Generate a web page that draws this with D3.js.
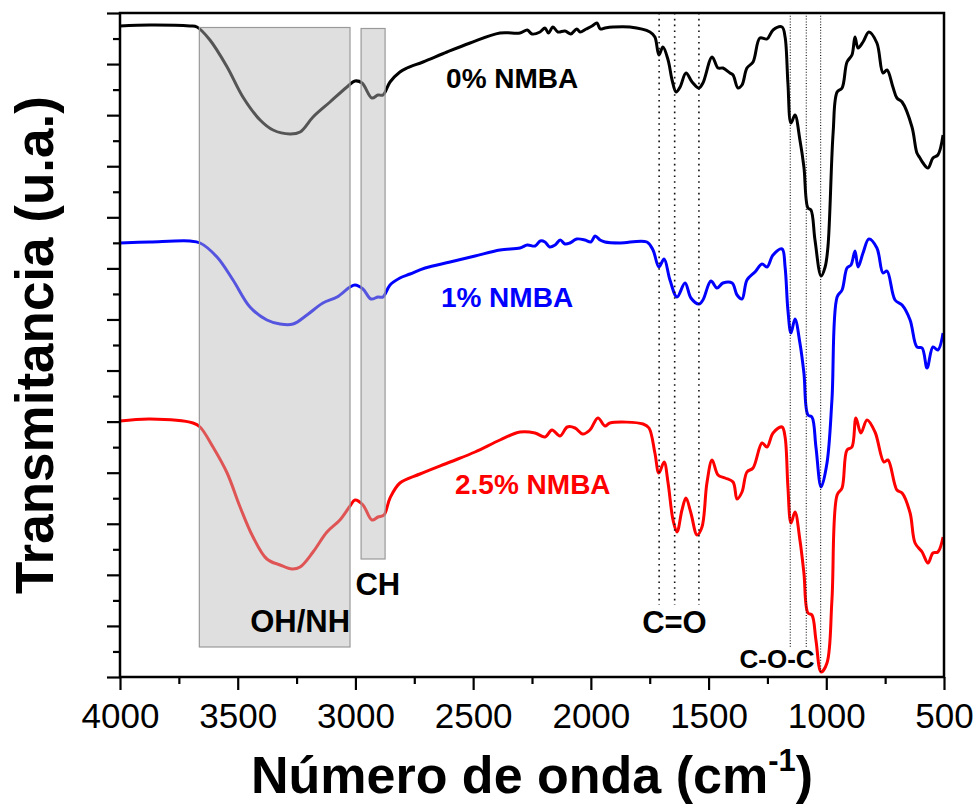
<!DOCTYPE html>
<html><head><meta charset="utf-8">
<script src="https://cdn.jsdelivr.net/npm/d3@7"></script>
<style>body{margin:0;background:#fff}svg{display:block}</style>
</head><body>
<script>
// ---------- data (wavenumber cm-1, transmittance a.u.) ----------
const wn0 = [4000,3873,3703,3673,3618,3545,3478,3405,3350,3278,3235,3180,3108,3036,3002,2972,2930,2904,2883,2853,2811,2781,2713,2611,2513,2386,2301,2270,2250,2216,2195,2180,2161,2140,2110,2085,2060,2046,2020,1995,1974,1960,1940,1906,1834,1749,1728,1711,1694,1672,1655,1638,1621,1596,1570,1541,1524,1485,1460,1439,1409,1396,1375,1358,1337,1311,1282,1252,1226,1188,1175,1163,1150,1133,1112,1095,1078,1065,1048,1022,1005,993,971,954,933,912,891,878,865,844,819,785,759,742,717,700,678,636,615,602,589,568,547,526,504];
const t0 = [130.2,130.4,130.2,130.0,127.4,122.0,116.0,111.4,109.4,108.6,109.0,112.0,115.0,118.0,119.2,118.8,115.8,116.4,116.4,119.0,121.0,121.8,123.0,125.0,126.8,128.8,128.8,129.4,128.6,129.0,129.8,128.8,130.0,129.0,129.2,128.6,129.6,129.0,129.6,130.2,130.8,129.6,129.8,130.0,130.0,129.0,128.0,124.4,126.0,123.4,119.4,117.0,118.0,120.8,119.0,117.8,118.8,124.0,121.8,121.8,120.8,120.4,117.8,118.4,121.8,123.0,127.8,127.6,129.4,130.0,128.0,118.8,110.8,112.4,107.4,102.0,93.8,93.4,87.4,80.2,82.0,86.0,108.8,117.0,117.8,123.0,124.4,128.0,125.8,127.0,129.0,126.8,120.8,121.4,118.0,115.8,115.0,110.0,104.8,103.8,102.8,101.8,103.8,104.4,108.4];

const wn1 = [4000,3873,3703,3660,3588,3520,3448,3376,3320,3265,3206,3138,3078,3023,3002,2968,2934,2904,2883,2853,2811,2768,2704,2598,2492,2386,2301,2270,2237,2215,2195,2175,2152,2130,2110,2089,2060,2025,2000,1982,1961,1940,1876,1762,1736,1711,1689,1664,1634,1600,1575,1541,1524,1490,1464,1439,1400,1379,1358,1337,1303,1273,1252,1226,1188,1175,1163,1150,1133,1112,1095,1078,1061,1044,1022,997,976,954,933,912,895,878,865,844,819,785,759,742,708,678,644,615,593,572,547,526,504];
const t1 = [86.8,87.0,87.2,86.8,84.0,79.4,74.0,71.4,70.6,70.6,72.4,74.8,76.0,78.0,78.4,77.6,75.6,76.0,76.0,78.4,79.8,80.6,81.8,83.0,84.2,85.4,85.8,86.4,86.2,87.2,87.0,86.0,86.4,87.4,86.6,86.8,87.6,87.4,87.0,88.2,87.4,87.0,86.8,87.0,85.4,82.0,83.6,79.4,76.0,78.8,75.8,74.6,75.4,79.2,77.8,78.8,78.8,76.4,75.6,79.4,81.0,82.6,82.0,84.4,85.6,82.0,73.4,68.8,71.6,66.8,60.8,52.4,52.0,46.0,38.0,42.8,55.4,76.0,77.4,81.8,82.4,85.2,82.0,84.8,87.6,85.8,80.8,81.2,75.4,74.4,71.4,66.0,65.8,61.8,66.0,65.4,68.8];

const wn25 = [4000,3873,3690,3660,3605,3545,3490,3435,3376,3320,3269,3235,3180,3121,3066,3023,3002,2968,2930,2904,2879,2853,2811,2726,2598,2492,2386,2301,2237,2195,2165,2131,2100,2067,2035,2004,1970,1940,1919,1778,1753,1728,1711,1689,1672,1651,1634,1613,1596,1575,1549,1528,1507,1485,1460,1430,1396,1379,1358,1337,1311,1273,1252,1226,1188,1175,1163,1150,1133,1112,1095,1078,1061,1044,1022,997,976,954,933,912,891,874,853,827,793,755,738,700,678,644,623,593,568,547,526,504];
const t25 = [51.2,51.6,50.8,50.0,46.0,40.8,34.0,28.0,23.6,22.4,21.6,22.0,25.0,29.0,31.4,34.2,35.4,34.4,31.4,32.0,32.4,35.8,38.8,40.6,43.0,45.0,47.4,49.0,48.8,48.0,49.4,48.2,50.0,49.8,48.6,49.4,51.8,50.2,50.8,50.6,49.8,44.8,40.8,43.0,38.8,31.4,29.0,33.4,35.8,32.8,28.4,30.0,38.8,43.4,40.4,39.8,39.0,35.6,37.0,41.0,41.8,46.8,46.0,48.8,50.0,48.0,38.0,30.8,33.0,27.4,20.8,12.8,12.4,7.4,1.0,2.8,15.4,36.4,37.8,45.4,46.0,51.8,48.8,51.4,49.0,43.0,43.4,37.4,36.8,32.8,26.8,25.0,22.8,24.8,25.0,28.0];

const seriesNames = ["0% NMBA","1% NMBA","2.5% NMBA"];
const seriesColors = ["#000000","#0000ff","#ff0000"];

// shaded band regions [from, to] in cm-1, [bottom, top] in a.u., and their label
const bandRanges = [[3663,3023],[2976,2874]];
const bandHeights = [[6.0,129.9],[23.6,129.7]];
const bandLabels = ["OH/NH","CH"];
// marker lines (cm-1)
const coLines = [1710,1644,1541];
const cocLines = [1153,1085,1024];

const xTicksMajor = [4000,3500,3000,2500,2000,1500,1000,500];
const xTicksMinor = [3750,3250,2750,2250,1750,1250,750];

// ---------- layout ----------
const W = 976, H = 805;
const m = {l:120, r:32, t:13, b:128};
const yMax = 132.8;
const svg = d3.select("body").append("svg").attr("width",W).attr("height",H);
const x = d3.scaleLinear().domain([4000,500]).range([m.l, W-m.r]);
const y = d3.scaleLinear().domain([0,yMax]).range([H-m.b, m.t]);
const FONT = "'Liberation Sans', Arial, Helvetica, sans-serif";

svg.append("defs").append("clipPath").attr("id","clip")
  .append("rect").attr("x",m.l).attr("y",m.t).attr("width",W-m.r-m.l).attr("height",H-m.b-m.t);

const line = d3.line().x(d=>x(d[0])).y(d=>y(d[1])).curve(d3.curveCatmullRom.alpha(0.5));
const data = [d3.zip(wn0,t0), d3.zip(wn1,t1), d3.zip(wn25,t25)];
const g = svg.append("g").attr("clip-path","url(#clip)");
data.forEach((d,i)=>{
  g.append("path").datum(d).attr("d",line).attr("fill","none")
   .attr("stroke",seriesColors[i]).attr("stroke-width",3).attr("stroke-linejoin","round");
});

// shaded bands (semi-transparent overlay)
bandRanges.forEach((r,i)=>{
  const [b,t] = bandHeights[i];
  g.append("rect").attr("x",x(r[0])).attr("width",x(r[1])-x(r[0]))
   .attr("y",y(t)).attr("height",y(b)-y(t))
   .attr("fill","#b9b9b9").attr("fill-opacity",0.46)
   .attr("stroke","#9a9a9a").attr("stroke-width",1.2);
});

// dotted marker lines
coLines.forEach(v=>{
  g.append("line").attr("x1",x(v)).attr("x2",x(v)).attr("y1",y(yMax)).attr("y2",y(14.4))
   .attr("stroke","#111").attr("stroke-width",1.6).attr("stroke-dasharray","1.6,4.2");
});
cocLines.forEach((v,i)=>{
  g.append("line").attr("x1",x(v)).attr("x2",x(v)).attr("y1",y(yMax)).attr("y2",y(i===2?1.0:5.8))
   .attr("stroke","#111").attr("stroke-width",1.1).attr("stroke-dasharray","1,1.8");
});

// ---------- axes ----------
const ax = svg.append("g");
ax.append("rect").attr("x",m.l).attr("y",m.t).attr("width",W-m.r-m.l).attr("height",H-m.b-m.t)
  .attr("fill","none").attr("stroke","#000").attr("stroke-width",2.5);

const xAxis = d3.axisBottom(x).tickValues(xTicksMajor).tickSize(13).tickSizeOuter(0).tickFormat(d3.format("d"));
const gx = ax.append("g").attr("transform",`translate(0,${H-m.b})`).call(xAxis);
gx.select(".domain").remove();
gx.selectAll(".tick line").attr("stroke","#000").attr("stroke-width",2.2);
gx.selectAll(".tick text").attr("font-family",FONT).attr("font-size",35).attr("fill","#000").attr("dy",null).attr("y",51);
const gxm = ax.append("g").attr("transform",`translate(0,${H-m.b})`)
  .call(d3.axisBottom(x).tickValues(xTicksMinor).tickSize(7).tickFormat(""));
gxm.select(".domain").remove();
gxm.selectAll(".tick line").attr("stroke","#000").attr("stroke-width",2.2);

const yMajor = d3.range(0,14).map(i=>i*yMax/13);
const yMinor = d3.range(0,13).map(i=>(i+0.5)*yMax/13);
const gy = ax.append("g").attr("transform",`translate(${m.l},0)`)
  .call(d3.axisLeft(y).tickValues(yMajor).tickSize(13).tickFormat(""));
gy.select(".domain").remove();
gy.selectAll(".tick line").attr("stroke","#000").attr("stroke-width",2.2);
const gym = ax.append("g").attr("transform",`translate(${m.l},0)`)
  .call(d3.axisLeft(y).tickValues(yMinor).tickSize(7).tickFormat(""));
gym.select(".domain").remove();
gym.selectAll(".tick line").attr("stroke","#000").attr("stroke-width",2.2);

// axis titles
const xt = svg.append("text").attr("x",(m.l+W-m.r)/2).attr("y",793).attr("text-anchor","middle")
  .attr("font-family",FONT).attr("font-weight","bold").attr("font-size",52).attr("fill","#000");
xt.append("tspan").text("Número de onda (cm");
xt.append("tspan").attr("font-size",31).attr("dy",-22).text("-1");
xt.append("tspan").attr("dy",22).text(")");

svg.append("text").attr("transform",`translate(53,${(m.t+H-m.b)/2}) rotate(-90)`)
  .attr("text-anchor","middle").attr("font-family",FONT).attr("font-weight","bold")
  .attr("font-size",53).attr("fill","#000").text("Transmitancia (u.a.)");

// series labels
const labelPos = [[2615,117.8],[2637,74.0],[2577,36.6]];
seriesNames.forEach((n,i)=>{
  svg.append("text").attr("x",x(labelPos[i][0])).attr("y",y(labelPos[i][1]))
    .attr("font-family",FONT).attr("font-weight","bold").attr("font-size",28)
    .attr("fill",seriesColors[i]).text(n);
});

// band labels
const bandLabelPos = [[3235,9.0],[2905,16.4]];
bandLabels.forEach((n,i)=>{
  svg.append("text").attr("x",x(bandLabelPos[i][0])).attr("y",y(bandLabelPos[i][1]))
    .attr("text-anchor","middle").attr("font-family",FONT).attr("font-weight","bold")
    .attr("font-size",31).attr("fill","#000").text(n);
});
svg.append("text").attr("x",x(1645)).attr("y",y(8.8)).attr("text-anchor","middle")
  .attr("font-family",FONT).attr("font-weight","bold").attr("font-size",31).attr("fill","#000").text("C=O");
svg.append("text").attr("x",x(1209)).attr("y",y(1.8)).attr("text-anchor","middle")
  .attr("font-family",FONT).attr("font-weight","bold").attr("font-size",26).attr("fill","#000").text("C-O-C");
</script>
</body></html>
